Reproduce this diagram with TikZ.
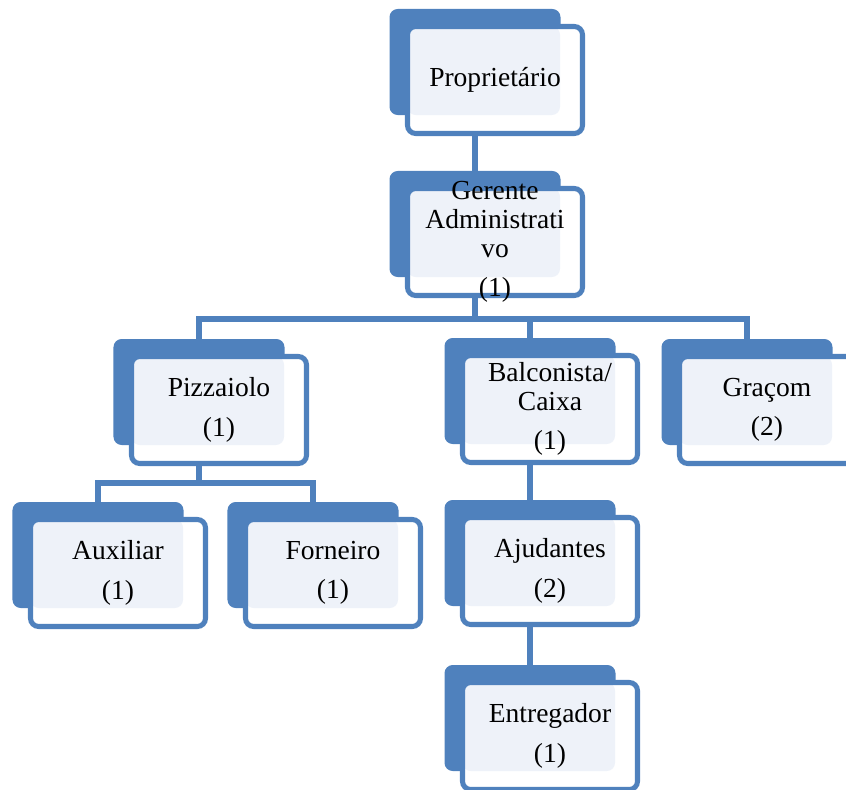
\documentclass[tikz,border=0pt]{standalone}
\usepackage{fontspec}
\setmainfont{Liberation Serif}
\usetikzlibrary{backgrounds}
\definecolor{orgblue}{HTML}{4F81BD}
\definecolor{orgpale}{HTML}{EEF2F9}
\tikzset{
  backbox/.style={rectangle, rounded corners=7pt, fill=orgblue, inner sep=0pt,
    minimum width=5.13cm, minimum height=3.18cm},
  frontbox/.style={rectangle, rounded corners=7pt, fill=white, draw=orgblue,
    line width=4.3pt, inner sep=0pt, minimum width=5.25cm, minimum height=3.21cm,
    path picture={\fill[orgpale] (path picture bounding box.north west)
      rectangle ++(4.575cm,-2.655cm);}},
  boxtext/.style={align=center, inner sep=0pt, font=\fontsize{23.5}{24.7}\selectfont},
  link/.style={draw=orgblue, line width=5.3pt}
}
% back card, front card and label; #2,#3 = centre of the front card
\newcommand{\orgbox}[4]{%
  \node[backbox] (#1) at (#2-20,#3-18) {};
  \node[frontbox] (#1-f) at (#2,#3) {};
  \node[boxtext] (#1-l) at (#1-f) {#4};
}

\begin{document}
\begin{tikzpicture}[x=0.03cm, y=-0.03cm]
  \useasboundingbox (0,0) rectangle (846,789);
  \orgbox{prop}{495}{80}{Proprietário}
  \orgbox{ger}{495}{242}{Gerente\\Administrati\\vo\\[9pt](1)}
  \orgbox{pizz}{219}{410}{Pizzaiolo\\[9pt](1)}
  \orgbox{balc}{550}{409}{Balconista/\\Caixa\\[9pt](1)}
  \orgbox{gar}{767}{410}{Graçom\\[9pt](2)}
  \orgbox{aux}{118}{573}{Auxiliar\\[9pt](1)}
  \orgbox{forn}{333}{573}{Forneiro\\[9pt](1)}
  \orgbox{ajud}{550}{571}{Ajudantes\\[9pt](2)}
  \orgbox{entr}{550}{736}{Entregador\\[9pt](1)}
  \begin{scope}[on background layer]
    \draw[link] (prop.south) -- (ger.north);
    \draw[link] (ger.south) -- ++(0,42) -| (pizz.north);
    \draw[link] (ger.south) -- ++(0,42) -| (balc.north);
    \draw[link] (ger.south) -- ++(0,42) -| (gar.north);
    \draw[link] (pizz.south) -- ++(0,38) -| (aux.north);
    \draw[link] (pizz.south) -- ++(0,38) -| (forn.north);
    \draw[link] (balc.south) -- (ajud.north);
    \draw[link] (ajud.south) -- (entr.north);
  \end{scope}
\end{tikzpicture}
\end{document}
